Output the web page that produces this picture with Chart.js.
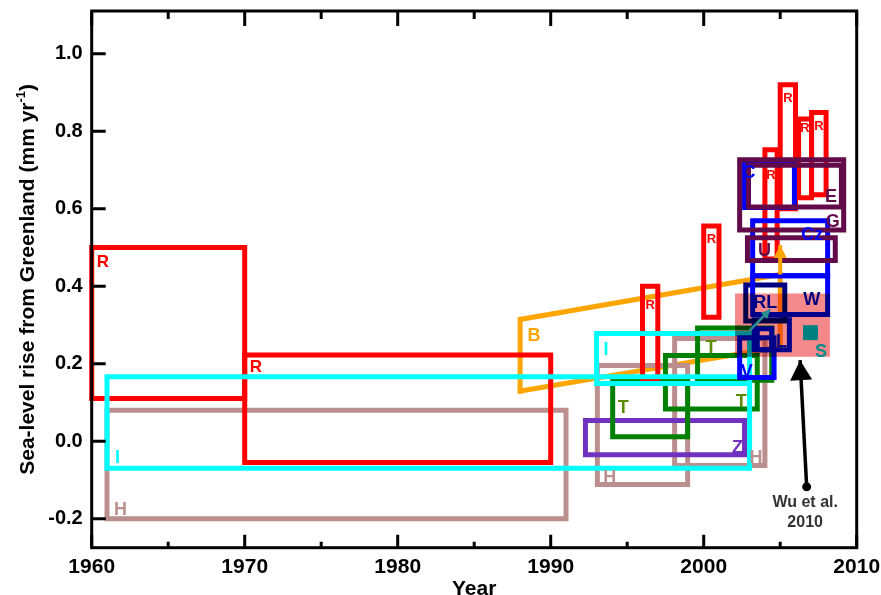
<!DOCTYPE html>
<html><head><meta charset="utf-8">
<script src="https://cdn.jsdelivr.net/npm/chart.js@4.4.0/dist/chart.umd.min.js"></script>
<style>html,body{margin:0;padding:0;background:#fff;overflow:hidden}</style>
</head><body>
<canvas id="c" width="881" height="595" style="display:block;width:881px;height:595px"></canvas>
<script>
// ---------------- data ----------------
const xTicks = [1960, 1970, 1980, 1990, 2000, 2010];
const yTicks = [-0.2, 0, 0.2, 0.4, 0.6, 0.8, 1.0];
const xMinorTicks = [1965, 1975, 1985, 1995, 2005];
const xRange = [1960, 2010];
const yRange = [-0.275, 1.11];

// rectangles (study, label text, year start, year end, low rate, high rate)
const boxStudy = ['H','R','R','H','H','Z','T','T','T','R','R','I','I','V','L','L','RL','R','R','R','R','W','Cz','C','U','G','E','S'];
const boxText  = ['H','R','R','H','H','Z','T','T','T','R','R','I','I','V','L','', 'RL','R','R','R','R','W','Cz','C','U','G','E','S'];
const boxX0  = [1961, 1960, 1970, 1993.05, 1998.1, 1992.27, 1994.05, 1997.5, 1999.6, 1996.0, 2000.0, 1961, 1993, 2002.35, 2003.3, 2003.5, 2002.75, 2004.0, 2005.0, 2006.2, 2007.05, 2003.2, 2003.2, 2002.67, 2002.86, 2002.35, 2002.93, 2002.05];
const boxX1  = [1991, 1970, 1990, 1998.95, 2004.0, 2002.67, 1998.95, 2003.5, 2004.45, 1997.0, 2001.0, 2003, 2003, 2004.6, 2005.6, 2004.45, 2005.3, 2004.8, 2006.0, 2007.05, 2008.0, 2008.1, 2008.1, 2005.93, 2008.6, 2009.15, 2009.0, 2008.25];
const boxLow = [-0.2, 0.11, -0.055, -0.112, -0.063, -0.035, 0.011, 0.083, 0.157, 0.155, 0.32, -0.07, 0.149, 0.164, 0.236, 0.236, 0.31, 0.47, 0.60, 0.628, 0.636, 0.327, 0.427, 0.603, 0.466, 0.545, 0.604, 0.2175];
const boxHigh= [0.08, 0.50, 0.222, 0.195, 0.265, 0.053, 0.158, 0.221, 0.292, 0.40, 0.555, 0.166, 0.278, 0.267, 0.313, 0.29, 0.403, 0.752, 0.92, 0.831, 0.848, 0.427, 0.569, 0.719, 0.525, 0.726, 0.712, 0.381];

// sloped band B
const bYears = [1988, 2005];
const bLow   = [0.129, 0.243];
const bHigh  = [0.314, 0.43];
const bText  = 'B';
// arrows and marker
const bArrowYears = [2005, 2005];
const bArrowVals  = [0.43, 0.506];
const sPointYears = [2006.98];
const sPointVals  = [0.28];
const tealArrowYears = [2003.0, 2004.35];
const tealArrowVals  = [0.285, 0.34];
const wuYears = [2006.73, 2006.3];
const wuVals  = [-0.118, 0.209];
const wuText  = ['Wu et al.', '2010'];
const xTitle = 'Year';
const yTitleParts = ['Sea-level rise from Greenland (mm yr', '-1', ')'];

// ---------------- styles ----------------
const FONT = '"Liberation Sans", Arial, Helvetica, sans-serif';
const studyColor = {R:'#ff0000', I:'#00ffff', H:'#bc8f8f', B:'#ffa500', T:'#008000', Z:'#7030c0',
  V:'#0000ff', L:'#0000ff', RL:'#000080', W:'#0000ff', Cz:'#0000ff', C:'#0000ff',
  U:'#630a4a', G:'#630a4a', E:'#630a4a', S:'#f4888a'};
const labelColorOverride = {T:'#5a8c00', S:'#008b8b', W:'#000080', L:'#000080', RL:'#000080'};
// [anchor, dx, dy, fontsize]
const labelPlace = [
  ['bl',7,-4,18],['tl',5,7,17],['tl',5,5,17],['bl',6,-2,18],['br',-2.5,-2.5,18],['br',-1.5,-1.5,18],
  ['tl',5,20,18],['br',-10.5,-2,18],['tl',8,12,18],['tc',0,14,13],['tc',0,8,13],['bl',8,-5,18],
  ['tl',7,9,18],['bl',1,-0.5,18],['br',-2.5,-2.5,18],['tl',0,0,0],['tl',7.5,10,18],['tc',0,20,13],
  ['tc',0,8,13],['tc',0,4,13],['tc',0,8,13],['br',-7.5,-9.5,18],['tr',-4.5,6.5,18],['tl',-2,3,18],
  ['tl',10.5,5.5,18],['br',-4,-2.5,18],['br',-4.3,-5,18],['br',-3,0,18]
];

// ---------------- datasets ----------------
const datasets = [];
function lineDs(points, color, width, extra) {
  return Object.assign({
    data: points, showLine: true, borderColor: color, backgroundColor: color,
    borderWidth: width, pointRadius: 0, pointHoverRadius: 0, fill: false, tension: 0,
    borderJoinStyle: 'miter', borderCapStyle: 'square', clip: false
  }, extra || {});
}
function addBox(i) {
  const st = boxStudy[i], isS = st === 'S';
  const pts = [
    {x: boxX0[i], y: boxLow[i]}, {x: boxX0[i], y: boxHigh[i]},
    {x: boxX1[i], y: boxHigh[i]}, {x: boxX1[i], y: boxLow[i]}, {x: boxX0[i], y: boxLow[i]}
  ];
  datasets.push(lineDs(pts, studyColor[st], isS ? 0 : 5, {
    fill: isS ? 'shape' : false,
    _multiply: isS,
    _label: boxText[i] ? {text: boxText[i], x0: boxX0[i], x1: boxX1[i], lo: boxLow[i], hi: boxHigh[i],
      place: labelPlace[i], color: labelColorOverride[st] || studyColor[st]} : null
  }));
}
for (let i = 0; i < boxStudy.length; i++) {
  addBox(i);
  if (i === 1) {
    const pts = [
      {x: bYears[0], y: bLow[0]}, {x: bYears[0], y: bHigh[0]},
      {x: bYears[1], y: bHigh[1]}, {x: bYears[1], y: bLow[1]}, {x: bYears[0], y: bLow[0]}
    ];
    datasets.push(lineDs(pts, studyColor.B, 5, {
      _label: {text: bText, x0: bYears[0], x1: bYears[1], lo: bLow[0], hi: bHigh[0],
        place: ['tl', 7.3, 8.7, 18], color: studyColor.B}
    }));
  }
}
// teal marker of S
datasets.push({
  data: sPointYears.map((x, k) => ({x, y: sPointVals[k]})), showLine: false,
  pointStyle: 'rect', pointRadius: 10.6, pointHoverRadius: 10.6,
  pointBackgroundColor: '#008080', pointBorderWidth: 0, borderWidth: 0, clip: false
});
// arrows
datasets.push(lineDs(tealArrowYears.map((x, k) => ({x, y: tealArrowVals[k]})), '#2a9090', 2.5,
  {borderCapStyle: 'butt', _arrow: {len: 9, w: 9}}));
datasets.push(lineDs(bArrowYears.map((x, k) => ({x, y: bArrowVals[k]})), studyColor.B, 4,
  {borderCapStyle: 'butt', _arrow: {len: 13, w: 13}}));
datasets.push(lineDs(wuYears.map((x, k) => ({x, y: wuVals[k]})), '#000000', 3.5,
  {borderCapStyle: 'butt', pointRadius: [4.5, 0], pointBackgroundColor: '#000', pointBorderWidth: 0,
   _arrow: {len: 20, w: 22}, _wu: true}));
datasets.forEach((d, i) => { d.order = -i; });

// ---------------- plugin ----------------
function drawLabel(ctx, chart, lab) {
  const xs = chart.scales.x, ys = chart.scales.y;
  const [anc, dx, dy, size] = lab.place;
  const xl = xs.getPixelForValue(lab.x0), xr = xs.getPixelForValue(lab.x1);
  const yt = ys.getPixelForValue(lab.hi), yb = ys.getPixelForValue(lab.lo);
  ctx.save();
  ctx.font = 'bold ' + size + 'px ' + FONT;
  ctx.fillStyle = lab.color;
  ctx.textBaseline = 'alphabetic';
  const cap = 0.716 * size;
  const y = anc[0] === 't' ? yt + dy + cap : yb + dy;
  let x;
  if (anc[1] === 'l') { x = xl + dx; ctx.textAlign = 'left'; }
  else if (anc[1] === 'r') { x = xr + dx; ctx.textAlign = 'right'; }
  else { x = (xl + xr) / 2 + dx; ctx.textAlign = 'center'; }
  ctx.fillText(lab.text, x, y);
  ctx.restore();
}
function drawHead(ctx, chart, ds) {
  const xs = chart.scales.x, ys = chart.scales.y;
  const n = ds.data.length;
  const p0 = {x: xs.getPixelForValue(ds.data[n-2].x), y: ys.getPixelForValue(ds.data[n-2].y)};
  const p1 = {x: xs.getPixelForValue(ds.data[n-1].x), y: ys.getPixelForValue(ds.data[n-1].y)};
  const a = Math.atan2(p1.y - p0.y, p1.x - p0.x);
  const {len, w} = ds._arrow;
  const bx = p1.x - len * Math.cos(a), by = p1.y - len * Math.sin(a);
  const px = -Math.sin(a) * w / 2, py = Math.cos(a) * w / 2;
  ctx.save();
  ctx.fillStyle = ds.borderColor;
  ctx.beginPath();
  ctx.moveTo(p1.x, p1.y); ctx.lineTo(bx + px, by + py); ctx.lineTo(bx - px, by - py);
  ctx.closePath(); ctx.fill();
  ctx.restore();
  if (ds._wu) {
    ctx.save();
    ctx.font = 'bold 16px ' + FONT; ctx.fillStyle = '#333333';
    ctx.textAlign = 'center'; ctx.textBaseline = 'alphabetic';
    const sx = xs.getPixelForValue(ds.data[0].x), sy = ys.getPixelForValue(ds.data[0].y);
    ctx.fillText(wuText[0], sx - 1.5, sy + 20.5);
    ctx.fillText(wuText[1], sx - 1.5, sy + 40.5);
    ctx.restore();
  }
}
const annot = {
  id: 'annot',
  afterDatasetDraw(chart, args) {
    const ctx = chart.ctx;
    const ds = chart.data.datasets[args.index];
    if (ds._multiply) ctx.globalCompositeOperation = 'source-over';
    if (ds._arrow) drawHead(ctx, chart, ds);
    const next = chart.data.datasets[args.index + 1];
    if (next && next._multiply) ctx.globalCompositeOperation = 'multiply';
  },
  afterDatasetsDraw(chart) {
    const ctx = chart.ctx, ca = chart.chartArea;
    const xs = chart.scales.x, ys = chart.scales.y;
    ctx.save();
    ctx.globalCompositeOperation = 'source-over';
    chart.data.datasets.forEach(ds => { if (ds._label) drawLabel(ctx, chart, ds._label); });
    ctx.strokeStyle = '#000'; ctx.lineWidth = 3;
    ctx.strokeRect(ca.left, ca.top, ca.right - ca.left, ca.bottom - ca.top);
    ctx.beginPath();
    yTicks.forEach(v => { const y = ys.getPixelForValue(v); ctx.moveTo(ca.left, y); ctx.lineTo(ca.left + 14, y); });
    xTicks.forEach(v => { const x = xs.getPixelForValue(v);
      ctx.moveTo(x, ca.bottom); ctx.lineTo(x, ca.bottom - 13);
      ctx.moveTo(x, ca.top); ctx.lineTo(x, ca.top + 15); });
    xMinorTicks.forEach(v => { const x = xs.getPixelForValue(v);
      ctx.moveTo(x, ca.bottom); ctx.lineTo(x, ca.bottom - 6);
      ctx.moveTo(x, ca.top); ctx.lineTo(x, ca.top + 8); });
    ctx.stroke();
    // axis titles
    ctx.fillStyle = '#000';
    ctx.font = 'bold 21px ' + FONT;
    ctx.textAlign = 'center'; ctx.textBaseline = 'alphabetic';
    ctx.fillText(xTitle, (ca.left + ca.right) / 2, 594.5);
    ctx.translate(33.5, (ca.top + ca.bottom) / 2);
    ctx.rotate(-Math.PI / 2);
    ctx.textAlign = 'left';
    const f1 = 'bold 21px ' + FONT, f2 = 'bold 13px ' + FONT;
    ctx.font = f1; const w1 = ctx.measureText(yTitleParts[0]).width, w3 = ctx.measureText(yTitleParts[2]).width;
    ctx.font = f2; const w2 = ctx.measureText(yTitleParts[1]).width;
    let x = -(w1 + w2 + w3) / 2;
    ctx.font = f1; ctx.fillText(yTitleParts[0], x, 0); x += w1;
    ctx.font = f2; ctx.fillText(yTitleParts[1], x, -9); x += w2;
    ctx.font = f1; ctx.fillText(yTitleParts[2], x, 0);
    ctx.restore();
  }
};

Chart.defaults.font.family = FONT;
new Chart(document.getElementById('c'), {
  type: 'scatter',
  data: {datasets},
  options: {
    responsive: false, animation: false, events: [],
    layout: {padding: {left: 0, right: 24.3, top: 11, bottom: 0}},
    plugins: {legend: {display: false}, tooltip: {enabled: false}},
    scales: {
      x: {
        type: 'linear', min: xRange[0], max: xRange[1],
        afterBuildTicks: s => { s.ticks = xTicks.map(v => ({value: v})); },
        afterFit: s => { s.height = 47.3; s.paddingLeft = 0; s.paddingRight = 0; },
        grid: {display: false, drawTicks: false}, border: {display: false},
        ticks: {color: '#000', font: {size: 21, weight: 'bold'}, padding: 6.5, maxRotation: 0,
          autoSkip: false, callback: v => String(v)}
      },
      y: {
        type: 'linear', min: yRange[0], max: yRange[1],
        afterBuildTicks: s => { s.ticks = yTicks.map(v => ({value: v})); },
        afterFit: s => { s.width = 91.7; s.paddingTop = 0; s.paddingBottom = 0; },
        grid: {display: false, drawTicks: false}, border: {display: false},
        ticks: {color: '#000', font: {size: 20, weight: 'bold'}, padding: 9, autoSkip: false,
          callback: v => Number(v).toFixed(1)}
      }
    }
  },
  plugins: [annot]
});
</script>
</body></html>
